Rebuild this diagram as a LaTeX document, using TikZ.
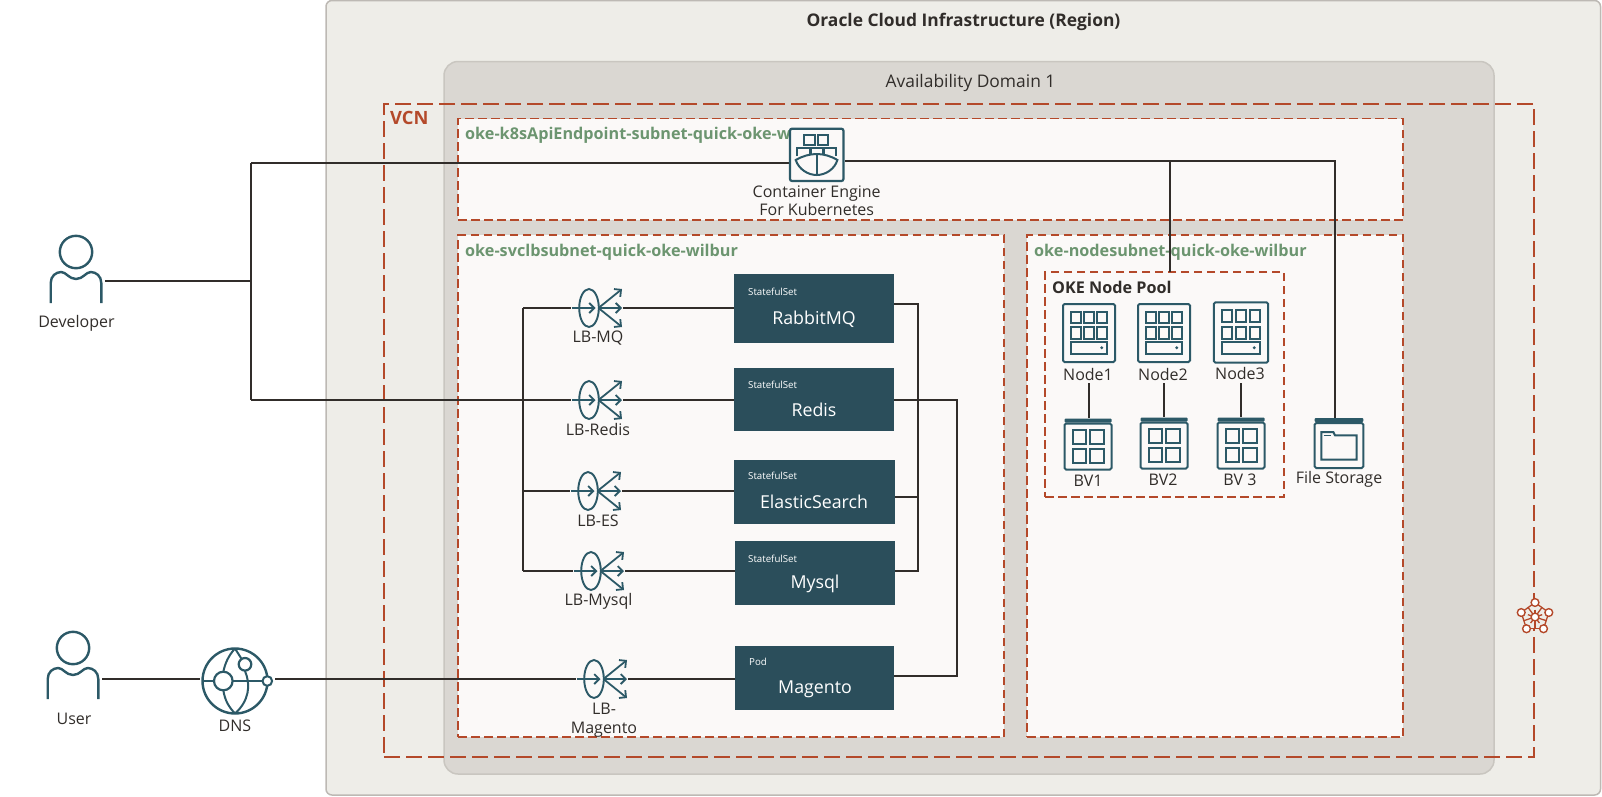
\documentclass[tikz,border=0pt]{standalone}
\usepackage{fontspec}
\setmainfont{Open Sans}
\usetikzlibrary{arrows.meta,shapes.geometric}
\definecolor{ink}{HTML}{312D2A}
\definecolor{ocean}{HTML}{2C5967}
\definecolor{deep}{HTML}{2B4E5B}
\definecolor{rust}{HTML}{B4492A}
\definecolor{leaf}{HTML}{6C9570}
\definecolor{regionfill}{HTML}{EEEDE8}
\definecolor{regionline}{HTML}{BDB9B4}
\definecolor{adfill}{HTML}{DAD7D2}
\definecolor{adline}{HTML}{C9C6C0}
\definecolor{paper}{HTML}{FBF9F8}
\tikzset{
 region/.style={draw=regionline,fill=regionfill,line width=1.5pt,rounded corners=6pt,outer sep=0pt},
 adbox/.style={draw=adline,fill=adfill,line width=1.5pt,rounded corners=14pt,outer sep=0pt},
 vcnbox/.style={draw=rust,line width=1.8pt,dash pattern=on 16pt off 6pt,outer sep=0pt},
 subnet/.style={draw=rust,fill=paper,line width=1.8pt,dash pattern=on 8.5pt off 4.5pt,outer sep=0pt},
 pool/.style={draw=rust,line width=1.8pt,dash pattern=on 8.5pt off 4.5pt,outer sep=0pt},
 wire/.style={draw=ink,line width=1.8pt},
 iconline/.style={draw=ocean,line width=1.8pt},
 solid box/.style={rectangle,fill=deep,inner sep=0pt,outer sep=0pt},
 hit/.style={rectangle,inner sep=0pt,outer sep=0pt},
 lbl/.style={text=ink,font=\fontsize{16}{19}\selectfont,align=center,inner sep=0pt},
 green/.style={text=leaf,font=\fontsize{16.2}{18}\selectfont\bfseries,inner sep=0pt,anchor=west},
 boxhead/.style={text=white,font=\fontsize{9.7}{12}\selectfont,inner sep=0pt,anchor=west},
 boxname/.style={text=white,font=\fontsize{17.8}{22}\selectfont,inner sep=0pt},
 pics/personicon/.style={code={
  \draw[iconline,line width=2.4pt] (0,0) circle (16.2);
  \draw[iconline,line width=2.4pt] (-25.3,51) -- (-25.3,31) .. controls (-25.3,24) and (-20,20) .. (-14.7,20)
    .. controls (-10,20) and (-7,27) .. (0,27) .. controls (7,27) and (10,20) .. (14.7,20)
    .. controls (20,20) and (25.3,24) .. (25.3,31) -- (25.3,51);
 }},
 pics/lbicon/.style={code={
  \draw[iconline,line width=1.9pt] (0,0) ellipse (9.8 and 19);
  \draw[iconline,-{Straight Barb[length=5pt,width=10pt]}] (-17.3,0) -- (6.5,0);
  \draw[iconline,-{Straight Barb[length=5pt,width=10pt]}] (9.5,0) -- (33,0);
  \draw[iconline,-{Straight Barb[length=5pt,width=10pt]}] (9.5,0) -- (33,-19);
  \draw[iconline,-{Straight Barb[length=5pt,width=10pt]}] (9.5,0) -- (33,19);
 }},
 pics/computeicon/.style={code={
  \draw[iconline,fill=paper,rounded corners=1.5pt,line width=2pt] (-26,-29) rectangle (26,29);
  \foreach \x in {-18.3,-5,8.3}{\foreach \y in {-21.3,-5.7}{
    \draw[iconline,line width=2pt] (\x,\y) rectangle ++(10,11.5);}}
  \draw[iconline,line width=2pt] (-18.3,9.3) rectangle (18.3,21);
  \fill[ocean] (12.7,14.7) circle (1.6);
 }},
 pics/volumeicon/.style={code={
  \fill[ocean,rounded corners=1pt] (-23.5,-25) rectangle (23.5,-21);
  \draw[iconline,fill=paper,rounded corners=1.5pt,line width=2pt] (-23.5,-20) rectangle (23.5,26);
  \foreach \x in {-15.3,2.3}{\foreach \y in {-13.3,5.7}{
    \draw[iconline,line width=2pt] (\x,\y) rectangle ++(13.4,13.8);}}
 }},
 pics/storageicon/.style={code={
  \fill[ocean,rounded corners=1pt] (-24.3,-25) rectangle (24.3,-21);
  \draw[iconline,fill=paper,rounded corners=1.5pt,line width=2pt] (-24.3,-20) rectangle (24.3,25);
  \draw[iconline,line width=2pt] (-17.7,-11) -- (-5.7,-11) -- (-4,-7.7) -- (17.7,-7.7) -- (17.7,16.7) -- (-17.7,16.7) -- cycle;
  \draw[iconline,line width=1.4pt] (-15.5,-7.7) -- (-8,-7.7);
 }},
 pics/engineicon/.style={code={
  \draw[iconline,fill=paper,rounded corners=2pt,line width=2.2pt] (-26.7,-26.3) rectangle (26.7,26);
  \draw[iconline,line width=2pt] (-12.3,-20) rectangle (-1.7,-10);
  \draw[iconline,line width=2pt] (1.7,-20) rectangle (11.7,-10);
  \draw[iconline,line width=2pt] (-19.3,1) -- (-19.3,-7.3) -- (-6.7,-7.3) -- (-6.7,-1);
  \draw[iconline,line width=2pt] (-5.7,-1.5) -- (-5.7,-7.3) -- (6,-7.3) -- (6,-1.5);
  \draw[iconline,line width=2pt] (7.3,-1) -- (7.3,-7.3) -- (19.3,-7.3) -- (19.3,1);
  \draw[iconline,line width=2pt] (-21,5) .. controls (-14,1) and (-7,-1) .. (0,-1) .. controls (7,-1) and (14,1) .. (20.7,5)
    .. controls (18,14) and (9,20) .. (0,20) .. controls (-9,20) and (-18,14) .. (-21,5) -- cycle;
  \draw[iconline,line width=2pt] (0,-1) -- (0,20);
 }},
 pics/dnsicon/.style={code={
  \draw[iconline,line width=2.4pt] (0,0) circle (32.5);
  \draw[iconline,line width=2pt] (-32,0) -- (32,0);
  \draw[iconline,line width=2pt] (0,-32.5) .. controls (-6,-26) and (-10,-18) .. (-11.7,-9);
  \draw[iconline,line width=2pt] (-11.7,9) .. controls (-10,20) and (-6,26) .. (0,32.5);
  \draw[iconline,line width=2pt] (0,-32.5) -- (10,-16.7);
  \draw[iconline,line width=2pt] (10,-10) .. controls (16,4) and (14,20) .. (0,32.5);
  \draw[iconline,fill=white,line width=2.2pt] (-11.7,0) circle (9.3);
  \draw[iconline,fill=white,line width=2.2pt] (10,-16.7) circle (6.3);
  \draw[iconline,fill=white,line width=2pt] (32.3,0) circle (4.8);
 }},
 pics/vcnicon/.style={code={
  \fill[regionfill] (-90:14.5) -- (-18:14.5) -- (54:14.5) -- (126:14.5) -- (198:14.5) -- cycle;
  \foreach \a/\b in {-90/-18,-18/54,54/126,126/198,198/270}{
    \draw[rust,line width=1.3pt] (\a:14.5) -- (\b:14.5);
    \draw[rust,line width=1.3pt] (\a:7.5) -- (0,0);
    \draw[rust,line width=1.3pt] (\a+36:12) -- (0,0);}
  \foreach \a in {-90,-18,54,126,198}{
    \draw[rust,fill=white,line width=1.4pt] (\a:14.5) circle (3.9);}
  \draw[rust,fill=white,line width=1.4pt] (0,0) circle (3.9);
 }},
}
\begin{document}
\begin{tikzpicture}[x=1pt,y=-1pt]
\useasboundingbox (0,0) rectangle (1602,796);
% containers
\node[region,hit,minimum width=1274.5pt,minimum height=794.5pt,anchor=north west] (oci) at (326,0.5) {};
\node[adbox,hit,minimum width=1050pt,minimum height=712.5pt,anchor=north west] (ad) at (444,61.5) {};
\node[subnet,hit,minimum width=945pt,minimum height=101.5pt,anchor=north west] (apisub) at (458,118.5) {};
\node[subnet,hit,minimum width=546pt,minimum height=502pt,anchor=north west] (lbsub) at (458,235) {};
\node[subnet,hit,minimum width=376pt,minimum height=502pt,anchor=north west] (nodesub) at (1027,235) {};
\node[vcnbox,hit,minimum width=1150pt,minimum height=653pt,anchor=north west] (vcn) at (384,104) {};
\node[pool,hit,minimum width=239pt,minimum height=225pt,anchor=north west] (poolbox) at (1045,272) {};
% titles
\node[text=ink,font=\fontsize{17.4}{22}\selectfont\bfseries,inner sep=0pt] (t1) at (963.5,22) {Oracle Cloud Infrastructure (Region)};
\node[text=ink,font=\fontsize{17.4}{20}\selectfont,inner sep=0pt] (t2) at (970.5,83) {Availability Domain 1};
\node[text=rust,font=\fontsize{18.3}{20}\selectfont\bfseries,inner sep=0pt,anchor=west] (t3) at (390,118) {VCN};
\node[green] (t4) at (465,135.5) {oke-k8sApiEndpoint-subnet-quick-oke-w};
\node[green] (t5) at (465,252.5) {oke-svclbsubnet-quick-oke-wilbur};
\node[green] (t6) at (1034,252.5) {oke-nodesubnet-quick-oke-wilbur};
\node[text=ink,font=\fontsize{16.2}{18}\selectfont\bfseries,inner sep=0pt,anchor=west] (t7) at (1052,287) {OKE Node Pool};
% anchors of the icons
\node[hit,minimum width=56pt,minimum height=52pt] (engine) at (816.7,155) {};
\node[hit,minimum width=58pt,minimum height=72pt] (developer) at (76,277) {};
\node[hit,minimum width=58pt,minimum height=72pt] (user) at (73,674) {};
\node[hit,minimum width=75pt,minimum height=66pt] (dns) at (237.5,681) {};
\node[hit,minimum width=52pt,minimum height=38pt] (lbmq) at (597,308) {};
\node[hit,minimum width=52pt,minimum height=38pt] (lbredis) at (597,400) {};
\node[hit,minimum width=52pt,minimum height=38pt] (lbes) at (596,491) {};
\node[hit,minimum width=52pt,minimum height=38pt] (lbmysql) at (599,571) {};
\node[hit,minimum width=52pt,minimum height=38pt] (lbmagento) at (602,679) {};
\node[solid box,minimum width=160pt,minimum height=69pt,anchor=north west] (rabbit) at (734,274) {};
\node[solid box,minimum width=160pt,minimum height=63pt,anchor=north west] (redis) at (734,368) {};
\node[solid box,minimum width=161pt,minimum height=64pt,anchor=north west] (es) at (734,460) {};
\node[solid box,minimum width=160pt,minimum height=64pt,anchor=north west] (mysql) at (735,541) {};
\node[solid box,minimum width=159pt,minimum height=64pt,anchor=north west] (magento) at (735,646) {};
\node[hit,minimum width=52pt,minimum height=58pt] (node1) at (1089,333) {};
\node[hit,minimum width=52pt,minimum height=58pt] (node2) at (1164,333) {};
\node[hit,minimum width=54pt,minimum height=59pt] (node3) at (1241,332.5) {};
\node[hit,minimum width=47pt,minimum height=51pt] (bv1) at (1088,443.5) {};
\node[hit,minimum width=47pt,minimum height=51pt] (bv2) at (1164,442.5) {};
\node[hit,minimum width=47pt,minimum height=51pt] (bv3) at (1241,442.5) {};
\node[hit,minimum width=48pt,minimum height=50pt] (files) at (1339,443) {};
% junctions
\coordinate (busa) at (251,163);
\coordinate (busb) at (251,281);
\coordinate (busc) at (251,400);
\coordinate (engr) at (845,161);
\coordinate (engcorner) at (1335,161);
\coordinate (pooltap) at (1170,161);
\coordinate (inbusa) at (523,308);
\coordinate (inbusb) at (523,491);
\coordinate (inbusc) at (523,571);
\coordinate (outa) at (918,304);
\coordinate (outb) at (918,497);
\coordinate (outc) at (918,571);
\coordinate (rcorner) at (957,400);
\coordinate (mcorner) at (957,676);
\coordinate (uline) at (0,679);
\coordinate (ntop) at (0,383);
% connectors
\draw[wire] (developer.east |- busb) -- (busb);
\draw[wire] (busa) -- (busc);
\draw[wire] (busa) -- (engine.west |- busa);
\draw[wire] (engr) -- (engcorner) -- (files.north -| engcorner);
\draw[wire] (pooltap) -- (poolbox.north -| pooltap);
\draw[wire] (busc) -- (lbredis.west);
\draw[wire] (lbredis.east) -- (redis.west |- lbredis.east);
\draw[wire] (inbusa) -- (inbusc);
\draw[wire] (inbusa) -- (lbmq.west);
\draw[wire] (inbusb) -- (lbes.west);
\draw[wire] (inbusc) -- (lbmysql.west);
\draw[wire] (lbmq.east) -- (rabbit.west |- lbmq.east);
\draw[wire] (lbes.east) -- (es.west |- lbes.east);
\draw[wire] (lbmysql.east) -- (mysql.west |- lbmysql.east);
\draw[wire] (lbmagento.east) -- (magento.west |- lbmagento.east);
\draw[wire] (rabbit.east |- outa) -- (outa) -- (outc) -- (mysql.east |- outc);
\draw[wire] (es.east |- outb) -- (outb);
\draw[wire] (redis.east |- rcorner) -- (rcorner) -- (mcorner) -- (magento.east |- mcorner);
\draw[wire] (user.east |- uline) -- (dns.west |- uline);
\draw[wire] (dns.east |- uline) -- (lbmagento.west);
\draw[wire] (node1.south |- ntop) -- (bv1.north -| node1.south);
\draw[wire] (node2.south |- ntop) -- (bv2.north);
\draw[wire] (node3.south |- ntop) -- (bv3.north);
% icons
\pic at (engine) {engineicon};
\pic at (76,252) {personicon};
\pic at (73,648) {personicon};
\pic at (235,681) {dnsicon};
\pic at (589,308) {lbicon};
\pic at (589,400) {lbicon};
\pic at (588,491) {lbicon};
\pic at (591,571) {lbicon};
\pic at (594,679) {lbicon};
\pic at (node1) {computeicon};
\pic at (node2) {computeicon};
\pic[scale=1.04] at (node3) {computeicon};
\pic at (bv1) {volumeicon};
\pic at (bv2) {volumeicon};
\pic at (bv3) {volumeicon};
\pic at (files) {storageicon};
\pic at (1535,617) {vcnicon};
% labels
\node[lbl,font=\fontsize{16}{18}\selectfont] (l1) at (816.7,201) {Container Engine\\For Kubernetes};
\node[lbl] (l2) at (76.5,323) {Developer};
\node[lbl] (l3) at (74,719) {User};
\node[lbl] (l4) at (235,725.5) {DNS};
\node[lbl] (l5) at (598,338) {LB-MQ};
\node[lbl] (l6) at (598,429) {LB-Redis};
\node[lbl] (l7) at (598,521) {LB-ES};
\node[lbl] (l8) at (598.5,601.5) {LB-Mysql};
\node[lbl,font=\fontsize{16}{19}\selectfont] (l9) at (604,720) {LB-\\Magento};
\node[lbl] (l10) at (1088,374) {Node1};
\node[lbl] (l11) at (1163,374) {Node2};
\node[lbl] (l12) at (1240,373) {Node3};
\node[lbl] (l13) at (1088,481) {BV1};
\node[lbl] (l14) at (1163,480) {BV2};
\node[lbl] (l15) at (1240,480) {BV 3};
\node[lbl] (l16) at (1339,479.5) {File Storage};
% text in the dark boxes
\node[boxhead] at (748,292) {StatefulSet};
\node[boxname] at (814,319) {RabbitMQ};
\node[boxhead] at (748,384.5) {StatefulSet};
\node[boxname] at (814,409.5) {Redis};
\node[boxhead] at (748,476) {StatefulSet};
\node[boxname] at (814,502) {ElasticSearch};
\node[boxhead] at (748,558.5) {StatefulSet};
\node[boxname] at (815,584) {Mysql};
\node[boxhead] at (749,662) {Pod};
\node[boxname] at (815,689) {Magento};
\end{tikzpicture}
\end{document}
